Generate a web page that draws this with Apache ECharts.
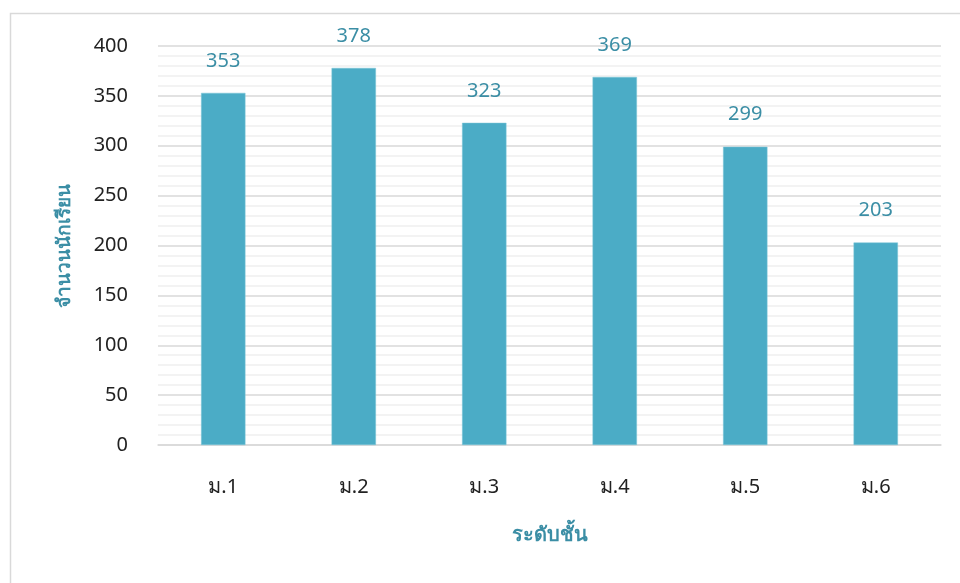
<!DOCTYPE html>
<html><head><meta charset="utf-8">
<script src="https://cdn.jsdelivr.net/npm/echarts@6/dist/echarts.min.js"></script>
<style>html,body{margin:0;padding:0;background:#fff}#c{width:960px;height:583px}</style>
</head><body><div id="c"></div>
<script>
const categories = ['ม.1','ม.2','ม.3','ม.4','ม.5','ม.6'];
const students = [353, 378, 323, 369, 299, 203];
const yTicks = [0, 50, 100, 150, 200, 250, 300, 350, 400];

const chart = echarts.init(document.getElementById('c'));
const font = '"Noto Sans", "DejaVu Sans", sans-serif';
chart.setOption({
  animation: false,
  graphic: [{type:'rect', shape:{x:10.5, y:13.5, width:1000, height:600}, style:{fill:'none', stroke:'#d9d9d9', lineWidth:1.5}, silent:true}],
  grid: {left:158, right:19, top:46, bottom:138},
  xAxis: {
    type:'category', data: categories,
    axisLine:{lineStyle:{color:'#d9d9d9', width:1.5}},
    axisTick:{show:false},
    axisLabel:{color:'#222', fontSize:20, margin:32, fontFamily:font},
    name:'ระดับชั้น', nameLocation:'middle', nameGap:80,
    nameTextStyle:{color:'#3b8ea5', fontSize:20, fontWeight:'bold', fontFamily:font}
  },
  yAxis: {
    type:'value', min:0, max:400, interval:50,
    minorTick:{show:false, splitNumber:5},
    minorSplitLine:{show:true, lineStyle:{color:'#efefef', width:1.5}},
    splitLine:{lineStyle:{color:'#d9d9d9', width:1.5}},
    axisLine:{show:false}, axisTick:{show:false},
    axisLabel:{color:'#222', fontSize:20, margin:30, fontFamily:font,
      formatter: v => yTicks.includes(v) ? String(v) : ''},
    name:'จำนวนนักเรียน', nameLocation:'middle', nameGap:84, nameRotate:90,
    nameTextStyle:{color:'#3b8ea5', fontSize:19, fontWeight:'bold', fontFamily:font}
  },
  series: [{
    type:'bar', data: students, barWidth:'34%',
    itemStyle:{color:'#4bacc6', borderColor:'#7cc4d6', borderWidth:0.5},
    label:{show:true, position:'top', distance:22, color:'#3b8ea5', fontSize:20, fontFamily:font}
  }]
});
</script></body></html>
